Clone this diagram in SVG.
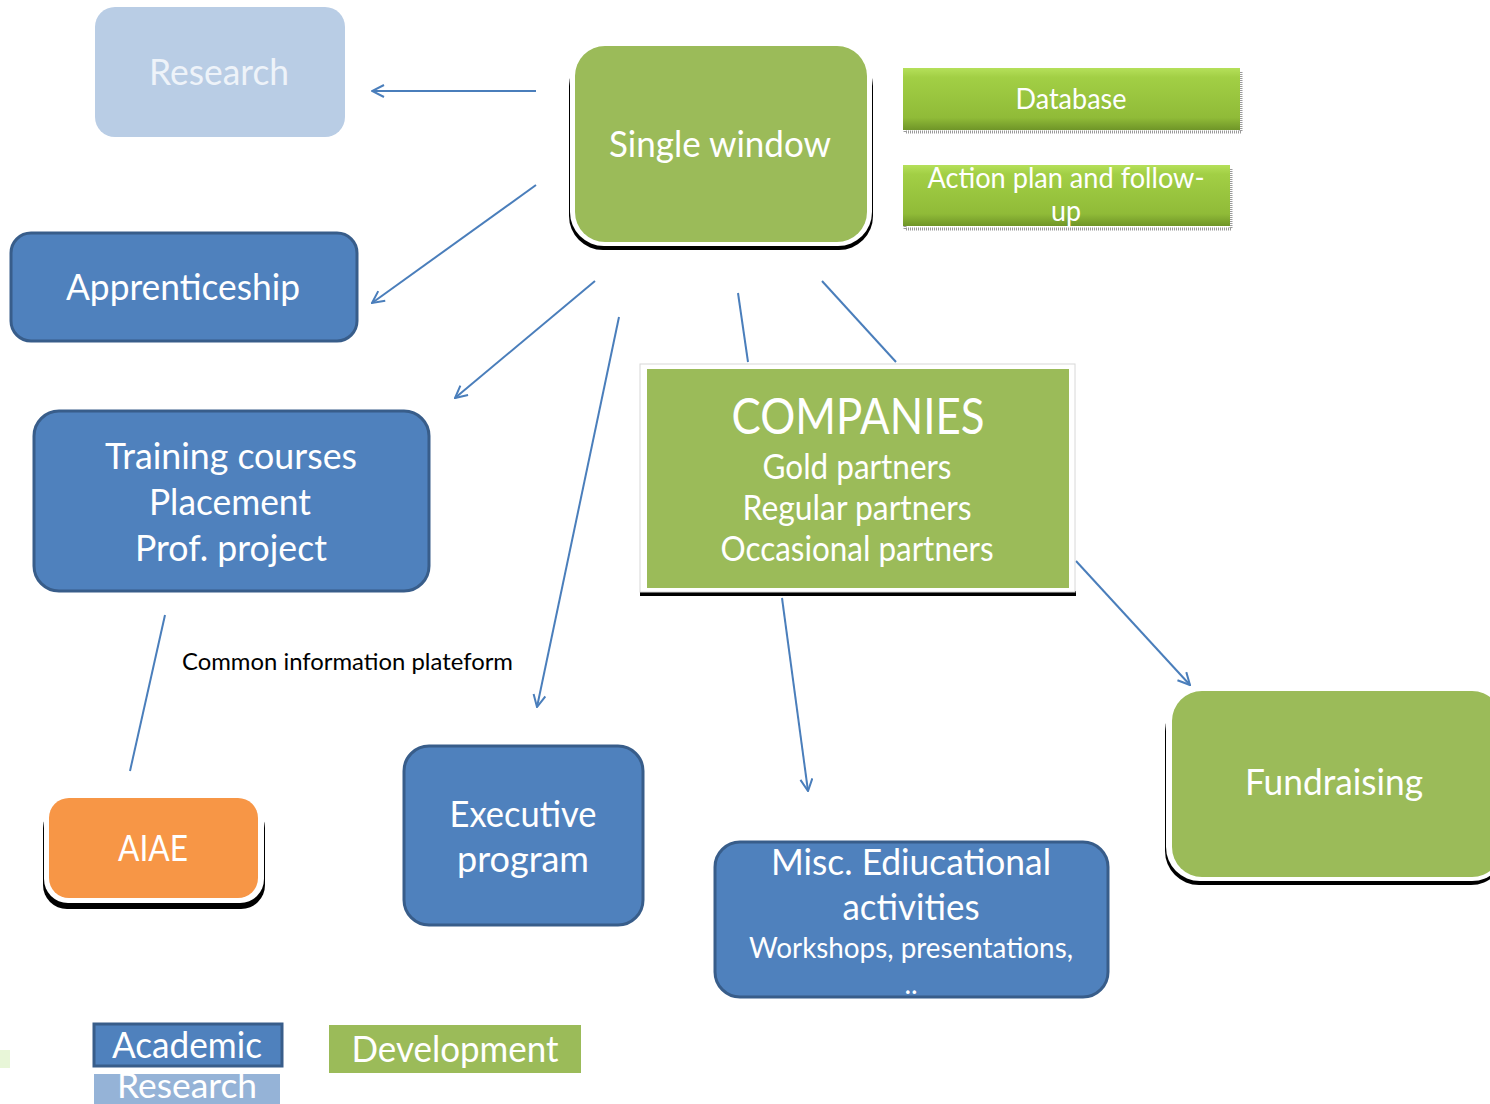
<svg xmlns="http://www.w3.org/2000/svg" width="1490" height="1104" viewBox="0 0 1490 1104">
  <style>
    text { font-family: Lato, "Open Sans", "Liberation Sans", sans-serif; fill: #ffffff; text-anchor: middle; }
    .blue { fill: #4f81bd; stroke: #385d8a; stroke-width: 3; }
    .green { fill: #9bbb59; }
    .conn { stroke: #4a7ebb; stroke-width: 2; fill: none; }
    .shadow { fill: #000000; }
    .halo { fill: #ffffff; }
    .dots { fill: none; stroke: #9a9a9a; stroke-width: 3; stroke-dasharray: 1 1; }
  </style>
  <defs>
    <marker id="arrow" viewBox="0 0 14 14" refX="13" refY="7" markerWidth="14" markerHeight="14" markerUnits="userSpaceOnUse" orient="auto">
      <path d="M1,1 L13,7 L1,13" fill="none" stroke="#4a7ebb" stroke-width="2"/>
    </marker>
    <linearGradient id="bar" x1="0" y1="0" x2="0" y2="1">
      <stop offset="0" stop-color="#b5e05a"/>
      <stop offset="0.15" stop-color="#a2cf45"/>
      <stop offset="0.8" stop-color="#90bb38"/>
      <stop offset="1" stop-color="#6f9528"/>
    </linearGradient>
  </defs>

  <!-- connectors -->
  <g id="connectors">
    <line class="conn" x1="536" y1="91" x2="372" y2="91" marker-end="url(#arrow)"/>
    <line class="conn" x1="536" y1="185" x2="372" y2="303" marker-end="url(#arrow)"/>
    <line class="conn" x1="595" y1="281" x2="455" y2="398" marker-end="url(#arrow)"/>
    <line class="conn" x1="619" y1="317" x2="537" y2="707" marker-end="url(#arrow)"/>
    <line class="conn" x1="738" y1="293" x2="748" y2="362"/>
    <line class="conn" x1="822" y1="281" x2="896" y2="362"/>
    <line class="conn" x1="782" y1="598" x2="808" y2="791" marker-end="url(#arrow)"/>
    <line class="conn" x1="1076" y1="561" x2="1190" y2="685" marker-end="url(#arrow)"/>
    <line class="conn" x1="165" y1="615" x2="130" y2="771" stroke-width="1.5"/>
  </g>

  <text x="182" y="670" textLength="331" lengthAdjust="spacingAndGlyphs" style="fill:#000000;text-anchor:start;font-size:24px">Common information plateform</text>

  <!-- Research -->
  <g id="research">
    <rect x="95" y="7" width="250" height="130" rx="20" fill="#b9cde5"/>
    <text x="219" y="85" font-size="36" textLength="140" lengthAdjust="spacingAndGlyphs" style="fill:#eef3f9">Research</text>
  </g>

  <!-- Single window -->
  <g id="single-window">
    <rect class="shadow" x="569" y="52" width="304" height="198" rx="34"/>
    <rect class="halo" x="570" y="41" width="302" height="205" rx="34"/>
    <rect class="green" x="575" y="46" width="292" height="196" rx="30"/>
    <text x="720" y="157" font-size="36" textLength="222" lengthAdjust="spacingAndGlyphs">Single window</text>
  </g>

  <!-- Database -->
  <g id="database">
    <rect class="dots" x="905" y="72" width="336" height="60"/>
    <rect x="903" y="68" width="337" height="62" fill="url(#bar)"/>
    <text x="1071" y="109" font-size="28" textLength="111" lengthAdjust="spacingAndGlyphs">Database</text>
  </g>

  <!-- Action plan -->
  <g id="action-plan">
    <rect class="dots" x="905" y="169" width="326" height="60"/>
    <rect x="903" y="165" width="327" height="61" fill="url(#bar)"/>
    <text x="1066" y="188" font-size="28" textLength="277" lengthAdjust="spacingAndGlyphs">Action plan and follow-</text>
    <text x="1066" y="221" font-size="28" textLength="30" lengthAdjust="spacingAndGlyphs">up</text>
  </g>

  <!-- Apprenticeship -->
  <g id="apprenticeship">
    <rect class="blue" x="11" y="233" width="346" height="108" rx="20"/>
    <text x="183" y="300" font-size="36" textLength="234" lengthAdjust="spacingAndGlyphs">Apprenticeship</text>
  </g>

  <!-- Training -->
  <g id="training">
    <rect class="blue" x="34" y="411" width="395" height="180" rx="25"/>
    <text x="231" y="469" font-size="36" textLength="252" lengthAdjust="spacingAndGlyphs">Training courses</text>
    <text x="230" y="515" font-size="36" textLength="162" lengthAdjust="spacingAndGlyphs">Placement</text>
    <text x="231" y="561" font-size="36" textLength="192" lengthAdjust="spacingAndGlyphs">Prof. project</text>
  </g>

  <!-- COMPANIES -->
  <g id="companies">
    <rect x="640" y="591" width="436" height="5" fill="#000000"/>
    <rect x="640" y="364" width="435" height="228" fill="#ffffff" stroke="#d8d8d8" stroke-width="1"/>
    <rect class="green" x="647" y="369" width="422" height="219"/>
    <text x="858" y="434" font-size="50" textLength="253" lengthAdjust="spacingAndGlyphs">COMPANIES</text>
    <text x="857" y="479" font-size="34" textLength="189" lengthAdjust="spacingAndGlyphs">Gold partners</text>
    <text x="857" y="520" font-size="34" textLength="229" lengthAdjust="spacingAndGlyphs">Regular partners</text>
    <text x="857" y="561" font-size="34" textLength="273" lengthAdjust="spacingAndGlyphs">Occasional partners</text>
  </g>

  <!-- Fundraising -->
  <g id="fundraising">
    <rect class="shadow" x="1165" y="697" width="340" height="188" rx="34"/>
    <rect class="halo" x="1166" y="686" width="340" height="195" rx="34"/>
    <rect class="green" x="1172" y="691" width="330" height="186" rx="30"/>
    <text x="1334" y="795" font-size="36" textLength="178" lengthAdjust="spacingAndGlyphs">Fundraising</text>
  </g>

  <!-- AIAE -->
  <g id="aiae">
    <rect class="shadow" x="43" y="804" width="222" height="105" rx="24"/>
    <rect class="halo" x="44" y="793" width="220" height="110" rx="24"/>
    <rect x="49" y="798" width="209" height="100" rx="20" fill="#f79646"/>
    <text x="153" y="861" font-size="36" textLength="70" lengthAdjust="spacingAndGlyphs">AIAE</text>
  </g>

  <!-- Executive program -->
  <g id="executive">
    <rect class="blue" x="404" y="746" width="239" height="179" rx="25"/>
    <text x="523" y="827" font-size="36" textLength="147" lengthAdjust="spacingAndGlyphs">Executive</text>
    <text x="523" y="872" font-size="36" textLength="132" lengthAdjust="spacingAndGlyphs">program</text>
  </g>

  <!-- Misc. educational activities -->
  <g id="misc">
    <rect class="blue" x="715" y="842" width="393" height="155" rx="25"/>
    <text x="911" y="875" font-size="36" textLength="280" lengthAdjust="spacingAndGlyphs">Misc. Ediucational</text>
    <text x="911" y="920" font-size="36" textLength="137" lengthAdjust="spacingAndGlyphs">activities</text>
    <text x="911" y="958" font-size="28" textLength="324" lengthAdjust="spacingAndGlyphs">Workshops, presentations,</text>
    <text x="911" y="994" font-size="28">..</text>
  </g>

  <!-- Legend -->
  <g id="legend">
    <rect x="0" y="1050" width="10" height="18" fill="#e8f6d8"/>
    <rect class="blue" x="94" y="1024" width="188" height="42"/>
    <text x="187" y="1058" font-size="36" textLength="150" lengthAdjust="spacingAndGlyphs">Academic</text>
    <rect x="94" y="1074" width="186" height="30" fill="#95b3d7"/>
    <text x="187" y="1098" font-size="34" textLength="140" lengthAdjust="spacingAndGlyphs">Research</text>
    <rect class="green" x="329" y="1025" width="252" height="48"/>
    <text x="455" y="1062" font-size="36" textLength="207" lengthAdjust="spacingAndGlyphs">Development</text>
  </g>
</svg>
